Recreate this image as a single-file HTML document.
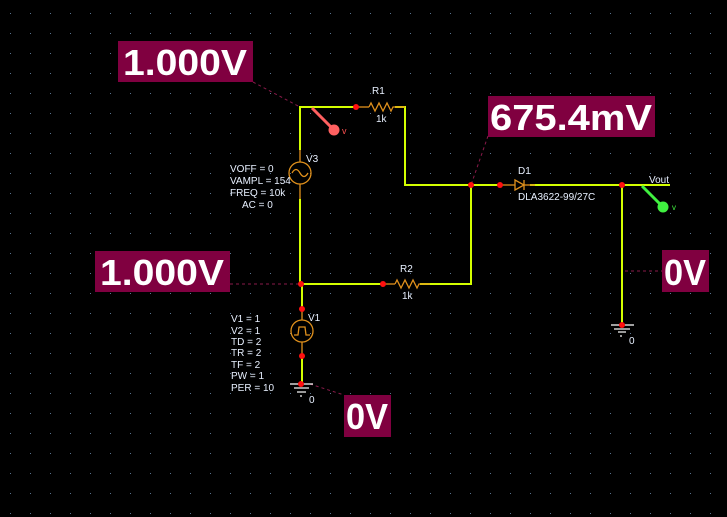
<!DOCTYPE html>
<html><head><style>
html,body{margin:0;padding:0;background:#000;}
svg{display:block;}
text{font-family:"Liberation Sans",Arial,sans-serif;}
.lbl{fill:#e8f0ff;font-size:10px;}
.big{fill:#fff;font-weight:bold;font-size:36px;}
</style></head><body>
<svg width="727" height="517" viewBox="0 0 727 517" xmlns="http://www.w3.org/2000/svg">
<defs>
<pattern id="g" x="10" y="13" width="20" height="20" patternUnits="userSpaceOnUse">
<rect x="0" y="0" width="1" height="1" fill="#5a7490"/>
</pattern>
</defs>
<rect width="727" height="517" fill="#000"/>
<rect width="727" height="517" fill="url(#g)"/>

<g stroke="#8a1a4a" stroke-width="1" stroke-dasharray="3,3" fill="none">
<line x1="253" y1="82" x2="300" y2="107"/>
<line x1="488" y1="136" x2="471" y2="185"/>
<line x1="230" y1="284" x2="300" y2="284"/>
<line x1="625" y1="271" x2="662" y2="271"/>
<line x1="310" y1="384" x2="344" y2="395"/>
</g>

<g stroke="#d4ff00" stroke-width="2" fill="none" shape-rendering="crispEdges">
<polyline points="300,150 300,107 357,107"/>
<polyline points="395,107 405,107 405,185 500,185"/>
<line x1="530" y1="185" x2="670" y2="185"/>
<line x1="622" y1="185" x2="622" y2="325"/>
<line x1="300" y1="199" x2="300" y2="284"/>
<polyline points="300,284 383,284"/>
<polyline points="420,284 471,284 471,185"/>
<line x1="302" y1="284" x2="302" y2="309"/>
<line x1="302" y1="356" x2="302" y2="384"/>
</g>

<g stroke="#e0901c" stroke-width="1.3" fill="none">
<line x1="357" y1="107" x2="369" y2="107"/>
<polyline points="369,107 371,103 375,111 379,103 383,111 387,103 391,111 393,107 405,107"/>
<line x1="383" y1="284" x2="395" y2="284"/>
<polyline points="395,284 397,280 401,288 405,280 409,288 413,280 417,288 419,284 430,284"/>
<line x1="300" y1="150" x2="300" y2="162"/>
<line x1="300" y1="184" x2="300" y2="199"/>
<circle cx="300" cy="173" r="11"/>
<path d="M292,173 q4,-7 8,0 t8,0"/>
<line x1="302" y1="309" x2="302" y2="320"/>
<line x1="302" y1="342" x2="302" y2="356"/>
<circle cx="302" cy="331" r="11"/>
<polyline points="294,335 298,335 299,327 305,327 306,335 310,335"/>
<line x1="500" y1="185" x2="515" y2="185"/>
<polygon points="515,180 515,190 524,185"/>
<line x1="524" y1="180" x2="524" y2="190"/>
<line x1="524" y1="185" x2="535" y2="185"/>
</g>

<g stroke="#fff" stroke-width="1.2">
<line x1="290" y1="384" x2="313" y2="384"/>
<line x1="294" y1="388" x2="309" y2="388"/>
<line x1="297" y1="392" x2="306" y2="392"/>
<line x1="300" y1="396" x2="302" y2="396"/>
<line x1="611" y1="325" x2="634" y2="325"/>
<line x1="614" y1="329" x2="630" y2="329"/>
<line x1="618" y1="332" x2="626" y2="332"/>
<line x1="620" y1="336" x2="622" y2="336"/>
</g>

<g fill="#ff1010">
<circle cx="356" cy="107" r="3"/>
<circle cx="471" cy="185" r="3"/>
<circle cx="500" cy="185" r="3"/>
<circle cx="622" cy="185" r="3"/>
<circle cx="622" cy="325" r="3"/>
<circle cx="301" cy="284" r="3"/>
<circle cx="383" cy="284" r="3"/>
<circle cx="302" cy="309" r="3"/>
<circle cx="302" cy="356" r="3"/>
<circle cx="301" cy="384" r="3"/>
</g>

<line x1="312" y1="108" x2="333" y2="129" stroke="#ff6060" stroke-width="3"/>
<circle cx="334" cy="130" r="5.5" fill="#ff6060"/>
<text x="342" y="134" fill="#ff5050" font-size="9">v</text>
<line x1="642" y1="186" x2="661" y2="205" stroke="#40f040" stroke-width="3"/>
<circle cx="663" cy="207" r="5.5" fill="#40f040"/>
<text x="672" y="210" fill="#40f040" font-size="8">v</text>

<text class="lbl" x="372" y="94">R1</text>
<text class="lbl" x="376" y="122" font-size="9" fill="#a0e0ff">1k</text>
<text class="lbl" x="400" y="272">R2</text>
<text class="lbl" x="402" y="299" font-size="9">1k</text>
<text class="lbl" x="306" y="162">V3</text>
<text class="lbl" x="230" y="172">VOFF = 0</text>
<text class="lbl" x="230" y="184">VAMPL = 154</text>
<text class="lbl" x="230" y="196">FREQ = 10k</text>
<text class="lbl" x="242" y="208">AC = 0</text>
<text class="lbl" x="308" y="321">V1</text>
<text class="lbl" x="231" y="322">V1 = 1</text>
<text class="lbl" x="231" y="334">V2 = 1</text>
<text class="lbl" x="231" y="345">TD = 2</text>
<text class="lbl" x="231" y="356">TR = 2</text>
<text class="lbl" x="231" y="368">TF = 2</text>
<text class="lbl" x="231" y="379">PW = 1</text>
<text class="lbl" x="231" y="391">PER = 10</text>
<text class="lbl" x="309" y="403" font-size="11">0</text>
<text class="lbl" x="629" y="344" font-size="11">0</text>
<text class="lbl" x="518" y="174">D1</text>
<text class="lbl" x="518" y="200">DLA3622-99/27C</text>
<text class="lbl" x="649" y="183">Vout</text>

<rect x="118" y="41" width="135" height="41" fill="#800040"/>
<text class="big" x="185" y="75" text-anchor="middle" textLength="124" lengthAdjust="spacingAndGlyphs">1.000V</text>
<rect x="488" y="96" width="167" height="41" fill="#800040"/>
<text class="big" x="571" y="130" text-anchor="middle" textLength="162" lengthAdjust="spacingAndGlyphs">675.4mV</text>
<rect x="95" y="251" width="135" height="41" fill="#800040"/>
<text class="big" x="162" y="285" text-anchor="middle" textLength="124" lengthAdjust="spacingAndGlyphs">1.000V</text>
<rect x="662" y="250" width="47" height="42" fill="#800040"/>
<text class="big" x="685" y="285" text-anchor="middle" textLength="42" lengthAdjust="spacingAndGlyphs">0V</text>
<rect x="344" y="395" width="47" height="42" fill="#800040"/>
<text class="big" x="367" y="429" text-anchor="middle" textLength="42" lengthAdjust="spacingAndGlyphs">0V</text>
</svg>
</body></html>
